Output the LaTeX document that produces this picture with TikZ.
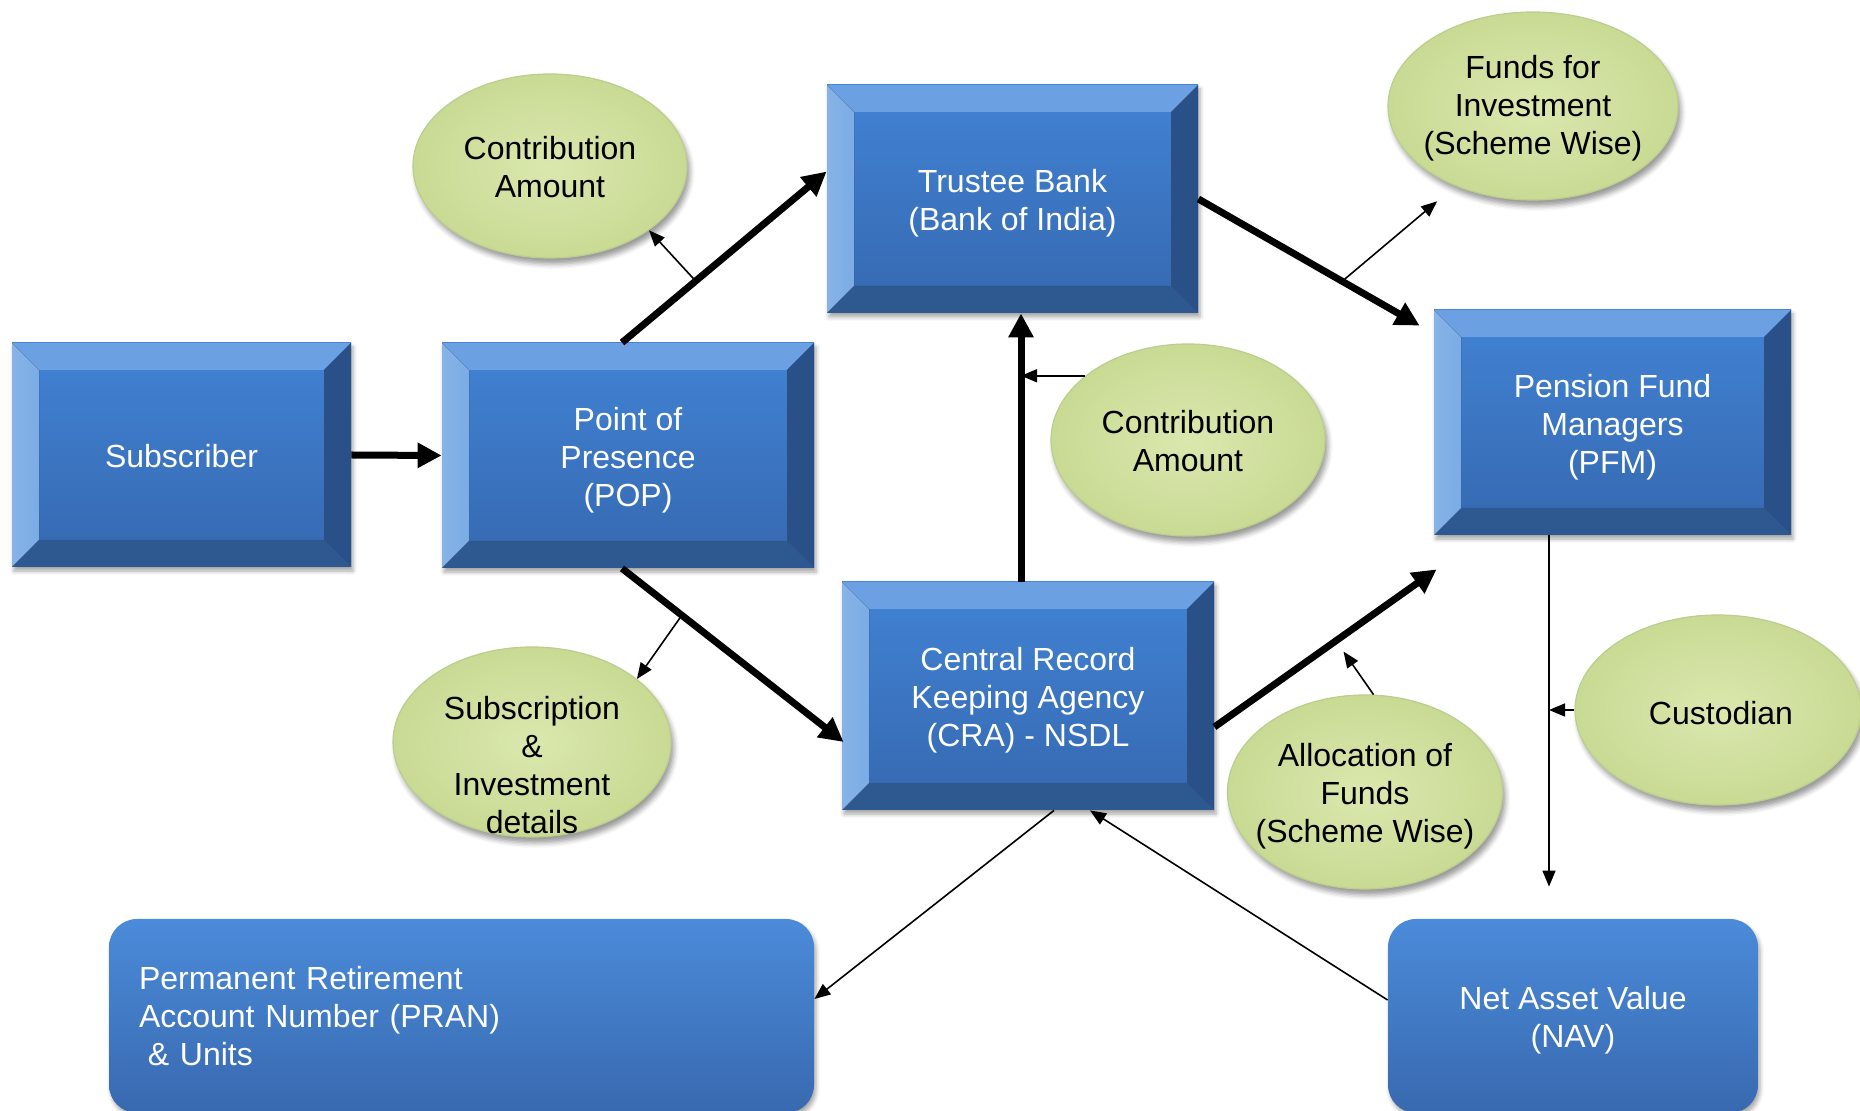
\documentclass[tikz,border=0pt]{standalone}
\usepackage{fontspec}
\setmainfont{Liberation Sans}
\usetikzlibrary{arrows.meta,shapes.geometric,calc,shadows.blur}
\definecolor{facetop}{HTML}{4183D4}
\definecolor{facebot}{HTML}{3668B0}
\definecolor{bevT}{HTML}{6BA1E2}
\definecolor{bevL}{HTML}{86B3E8}
\definecolor{bevR}{HTML}{2A5187}
\definecolor{bevB}{HTML}{2D5990}
\definecolor{rtop}{HTML}{4B8BD9}
\definecolor{rbot}{HTML}{3869B0}
\definecolor{ein}{HTML}{DAE8AE}
\definecolor{eout}{HTML}{C9DA94}
\definecolor{erim}{HTML}{BCCD8D}
\begin{document}
\begin{tikzpicture}[x=0.5pt,y=-0.5pt,
  txt/.style={font=\fontsize{16}{19}\selectfont},
  lone/.style={text height=16.5pt, text depth=3.5pt},
  ltwo/.style={text height=35.5pt, text depth=3.5pt},
  lthree/.style={text height=54.5pt, text depth=3.5pt},
  lfour/.style={text height=73.5pt, text depth=3.5pt},
  bevbox/.style={rectangle, inner sep=0pt, txt, text=white, align=center,
    top color=facetop, bottom color=facebot,
    blur shadow={shadow xshift=1pt, shadow yshift=-2pt, shadow blur radius=2pt, shadow opacity=35},
    path picture={
      \coordinate (pNW) at (path picture bounding box.north west);
      \coordinate (pNE) at (path picture bounding box.north east);
      \coordinate (pSW) at (path picture bounding box.south west);
      \coordinate (pSE) at (path picture bounding box.south east);
      \fill[bevT] (pNW) -- (pNE) -- ([xshift=-13.5pt,yshift=-13.5pt]pNE) -- ([xshift=13.5pt,yshift=-13.5pt]pNW) -- cycle;
      \fill[bevB] (pSW) -- (pSE) -- ([xshift=-13.5pt,yshift=13.5pt]pSE) -- ([xshift=13.5pt,yshift=13.5pt]pSW) -- cycle;
      \fill[left color=bevL, right color=bevL!85!facetop] (pNW) -- (pSW) -- ([xshift=13.5pt,yshift=13.5pt]pSW) -- ([xshift=13.5pt,yshift=-13.5pt]pNW) -- cycle;
      \fill[bevR] (pNE) -- (pSE) -- ([xshift=-13.5pt,yshift=13.5pt]pSE) -- ([xshift=-13.5pt,yshift=-13.5pt]pNE) -- cycle;
    }},
  rbox/.style={rectangle, rounded corners=14pt, txt, text=white,
    top color=rtop, bottom color=rbot,
    blur shadow={shadow xshift=1pt, shadow yshift=-2pt, shadow blur radius=2pt, shadow opacity=35}},
  ell/.style={ellipse, inner sep=0pt, inner color=ein, outer color=eout,
    draw=erim, line width=0.6pt,
    blur shadow={shadow xshift=1.5pt, shadow yshift=-3pt, shadow blur radius=2.5pt, shadow opacity=40}},
  etext/.style={txt, text=black, align=center, inner sep=0pt},
  thickarrow/.style={line width=3.5pt, -{Triangle[length=12pt,width=12pt]}},
  thinarrow/.style={line width=0.8pt, -{Triangle[length=8pt,width=6.5pt]}}
]
\useasboundingbox (0,0) rectangle (1860,1111);

% blue bevel boxes
\node[bevbox, lone, minimum width=169.5pt, minimum height=112pt] (sub) at (181.5,455) {Subscriber};
\node[bevbox, lthree, minimum width=186pt, minimum height=112.5pt] (pop) at (628,455.5) {Point of\\Presence\\(POP)};
\node[bevbox, ltwo, minimum width=185.5pt, minimum height=114pt] (tb) at (1012.5,199) {Trustee Bank\\(Bank of India)};
\node[bevbox, lthree, minimum width=178.5pt, minimum height=112.5pt] (pfm) at (1612.5,422.5) {Pension Fund\\Managers\\(PFM)};
\node[bevbox, lthree, minimum width=186pt, minimum height=114pt] (cra) at (1028,696) {Central Record\\Keeping Agency\\(CRA) - NSDL};

% rounded boxes
\node[rbox, minimum width=352.5pt, minimum height=97pt, inner xsep=15pt, text width=322.5pt, align=left] (pran) at (461.5,1016)
  {Permanent Retirement\\Account Number (PRAN)\\\hspace*{0.28em}\& Units};
\node[rbox, ltwo, minimum width=185pt, minimum height=97pt, inner xsep=0pt, align=center] (nav) at (1573,1016) {Net Asset Value\\(NAV)};

% green ellipses
\node[ell, minimum width=137pt, minimum height=92pt] (ca1) at (550,166) {};
\node[etext, ltwo] (ca1t) at (ca1) {Contribution\\Amount};
\node[ell, minimum width=145pt, minimum height=94pt] (funds) at (1533,106) {};
\node[etext, lthree] (fundst) at (1533,103.5) {Funds for\\Investment\\(Scheme Wise)};
\node[ell, minimum width=137pt, minimum height=96pt] (ca2) at (1188,440) {};
\node[etext, ltwo] (ca2t) at (ca2) {Contribution\\Amount};
\node[ell, minimum width=139pt, minimum height=95pt] (sid) at (532,742) {};
\node[etext, lfour] (sidt) at (532,764) {Subscription\\\&\\Investment\\details};
\node[ell, minimum width=137.5pt, minimum height=97pt] (alloc) at (1365,792) {};
\node[etext, lthree] (alloct) at (alloc) {Allocation of\\Funds\\(Scheme Wise)};
\node[ell, minimum width=143pt, minimum height=95pt] (cust) at (1718,710) {};
\node[etext, lone] (custt) at (1721,712) {Custodian};

% helper coordinates
\coordinate (vx) at (1021,0);
\coordinate (vx2) at (1549,0);

% thick connectors
\draw[thickarrow] (sub.east) -- (pop.west);
\draw[thickarrow] ($(pop.north)+(-6,0)$) -- coordinate[pos=0.36] (m1) ($(tb.north west)!0.38!(tb.south west)$);
\draw[thickarrow] (tb.east) -- coordinate[pos=0.65] (m2) ($(pfm.north west)+(-14,16)$);
\draw[thickarrow] (cra.north -| vx) -- (tb.south -| vx);
\draw[thickarrow] ($(pop.south)+(-6,0)$) -- coordinate[pos=0.27] (m3) ($(cra.west)+(2,46)$);
\draw[thickarrow] ($(cra.east)+(0,31)$) -- ($(pfm.south west)+(3,34)$);

% thin connectors
\coordinate (f1) at ($(m2)+(95,-80)$);
\coordinate (a1) at ($(alloc.85)+(-30,-43)$);
\draw[thinarrow] (m1) -- (ca1.-33);
\draw[thinarrow] (m2) -- (f1);
\draw[thinarrow] (ca2.148) -- (ca2.148 -| vx);
\draw[thinarrow] (m3) -- (sid.31);
\draw[thinarrow] (alloc.85) -- (a1);
\draw[thinarrow] (pfm.south -| vx2) -- ($(nav.north -| vx2)+(0,-32)$);
\draw[thinarrow] (cust.west) -- (cust.west -| vx2);
\draw[thinarrow] ($(cra.south)+(26,0)$) -- ($(pran.east)+(0,-17)$);
\draw[thinarrow] ($(nav.west)+(0,-16)$) -- ($(cra.south)+(62,0)$);
\end{tikzpicture}
\end{document}
